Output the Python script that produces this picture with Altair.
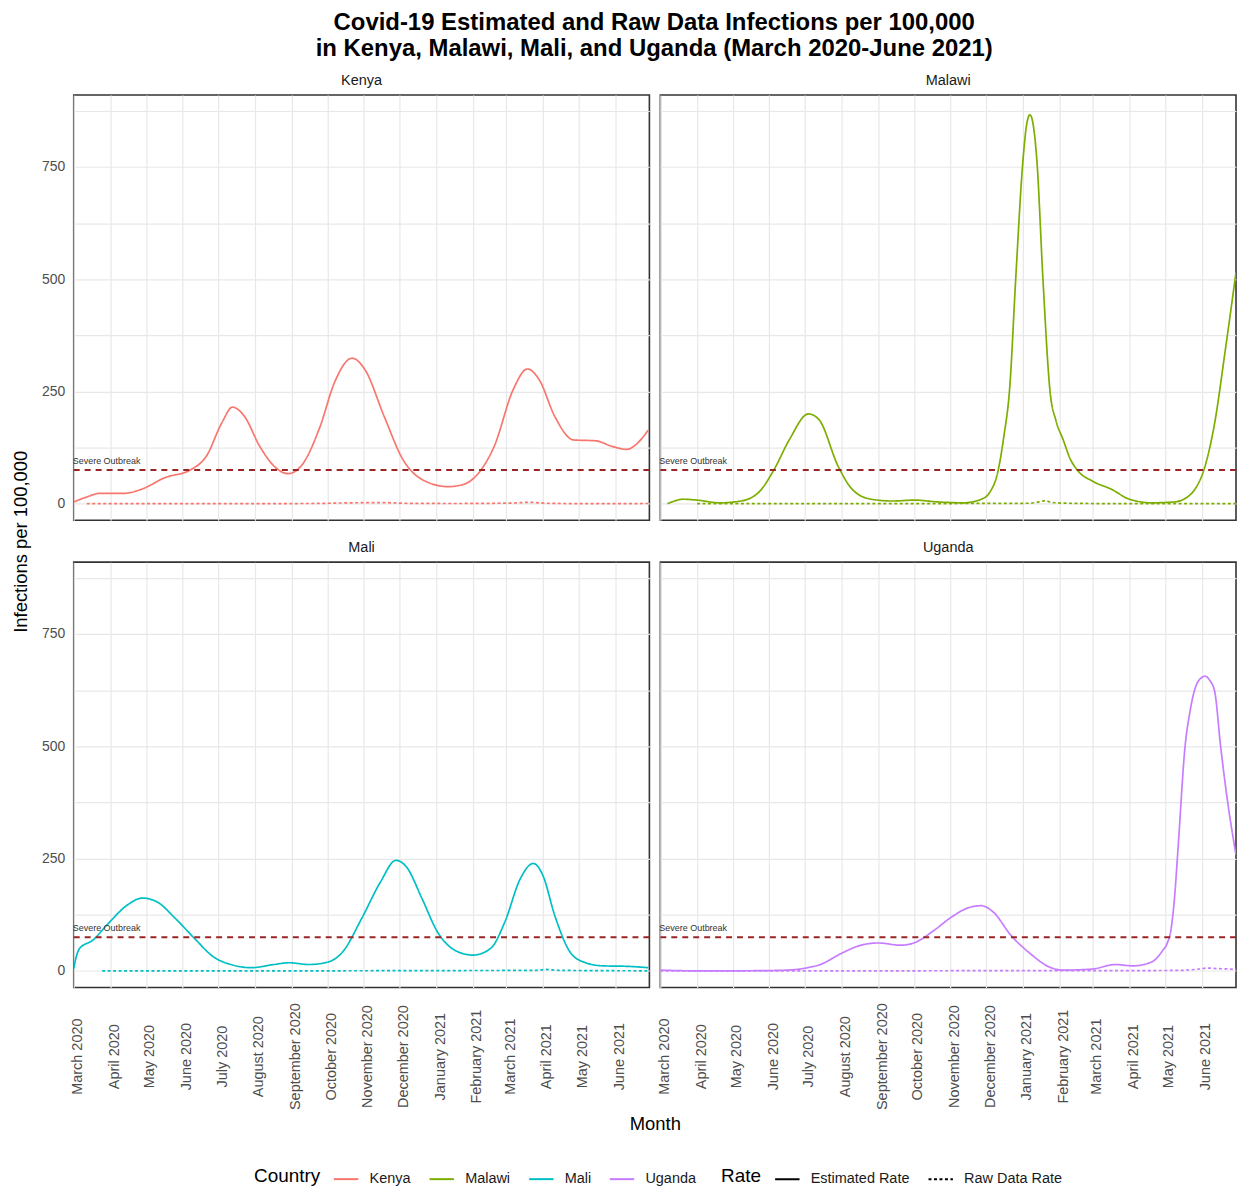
import altair as alt
import pandas as pd

COUNTRIES = ["Kenya", "Malawi", "Mali", "Uganda"]
COLORS = ["#F8766D", "#7CAE00", "#00BFC4", "#C77CFF"]
RATES = ["Estimated Rate", "Raw Data Rate"]
START = "2020-03-01"
THRESHOLD = 75
MONTHS = [(2020, m) for m in range(3, 13)] + [(2021, m) for m in range(1, 7)]

# days since 2020-03-01 and infections per 100,000
kenya_est_days = [0, 10, 22, 42, 57, 77, 99, 112, 125, 134, 144, 157, 169, 181, 192, 208, 220, 235, 246,
                  262, 278, 294, 316, 329, 342, 355, 371, 383, 393, 406, 422, 441, 454, 467, 476, 485]
kenya_est_vals = [4, 14, 23, 23, 32, 58, 76, 106, 180, 215, 195, 128, 84, 67, 84, 172, 269, 324, 298,
                  195, 98, 54, 38, 43, 69, 128, 254, 300, 276, 195, 142, 140, 128, 121, 135, 164]
kenya_raw_days = [11, 100, 200, 235, 260, 280, 320, 370, 385, 400, 440, 485]
kenya_raw_vals = [0, 0, 0.5, 2, 2.5, 1, 0.5, 1.5, 3, 1, 0, 0.5]

malawi_est_days = [6, 12, 19, 31, 50, 68, 84, 96, 109, 125, 134, 150, 162, 178, 196, 215, 234, 256, 271,
                   278, 285, 290, 295, 300, 306, 309, 312, 315, 318, 323, 329, 334, 340, 346, 352, 365,
                   381, 396, 415, 434, 446, 452, 459, 468, 477, 486]
malawi_est_vals = [0, 6, 10, 8, 2, 6, 28, 76, 143, 200, 187, 84, 32, 10, 6, 8, 4, 2, 10,
                   25, 72, 150, 260, 500, 760, 840, 866, 840, 760, 500, 250, 185, 143, 100, 75, 50,
                   32, 10, 2, 4, 17, 35, 76, 180, 343, 515]
malawi_raw_days = [31, 100, 200, 260, 310, 320, 325, 330, 345, 400, 486]
malawi_raw_vals = [0, 0, 0, 0.5, 1, 4, 7, 3, 1, 0, 0]

mali_est_days = [0, 2, 5, 16, 29, 45, 58, 70, 86, 102, 118, 134, 150, 169, 182, 198, 214, 227, 243, 259,
                 272, 281, 294, 307, 323, 337, 352, 364, 377, 388, 396, 406, 419, 431, 447, 467, 485]
mali_est_vals = [5, 30, 50, 68, 105, 146, 162, 154, 116, 72, 31, 13, 7, 14, 18, 14, 19, 42, 116, 198,
                 246, 231, 161, 87, 44, 35, 50, 109, 205, 239, 213, 124, 42, 19, 11, 10, 7]
mali_raw_days = [24, 100, 200, 300, 390, 398, 410, 485]
mali_raw_vals = [0, 0, 0, 0.5, 1, 3, 1, 0]

uganda_est_days = [0, 28, 59, 90, 110, 118, 126, 134, 153, 168, 184, 203, 215, 231, 246, 262, 271, 281,
                   296, 312, 328, 340, 365, 384, 399, 415, 424, 428, 431, 434, 437, 443, 447, 451, 455,
                   460, 464, 468, 473, 479, 486]
uganda_est_vals = [1.5, 0, 0, 0.5, 2, 4, 8, 13, 39, 56, 62, 57, 63, 90, 120, 142, 145, 131,
                   79, 39, 9, 1.5, 4, 14, 11, 20, 45, 62, 90, 160, 270, 500, 575, 625, 648,
                   656, 646, 622, 500, 375, 258]
uganda_raw_days = [0, 100, 200, 300, 400, 440, 455, 462, 470, 480, 486]
uganda_raw_vals = [0, 0, 0, 0.5, 0.5, 1, 4, 6, 5, 4, 3]

series = {
    ("Kenya", "Estimated Rate"): (kenya_est_days, kenya_est_vals),
    ("Kenya", "Raw Data Rate"): (kenya_raw_days, kenya_raw_vals),
    ("Malawi", "Estimated Rate"): (malawi_est_days, malawi_est_vals),
    ("Malawi", "Raw Data Rate"): (malawi_raw_days, malawi_raw_vals),
    ("Mali", "Estimated Rate"): (mali_est_days, mali_est_vals),
    ("Mali", "Raw Data Rate"): (mali_raw_days, mali_raw_vals),
    ("Uganda", "Estimated Rate"): (uganda_est_days, uganda_est_vals),
    ("Uganda", "Raw Data Rate"): (uganda_raw_days, uganda_raw_vals),
}

rows = []
base_date = pd.Timestamp(START)
for (country, rate), (days, vals) in series.items():
    for d, v in zip(days, vals):
        rows.append({"Country": country, "Rate": rate,
                     "date": (base_date + pd.Timedelta(days=d)).strftime("%Y-%m-%d"),
                     "value": v})
df = pd.DataFrame(rows)
thresh_df = pd.DataFrame({"date": [START], "value": [THRESHOLD], "label": ["Severe Outbreak"]})

W = 578
H = 427
COL_GAP = 11
ROW_GAP = 42

month_vals = [alt.DateTime(year=y, month=m, date=1, utc=True) for (y, m) in MONTHS]
xscale = alt.Scale(type="utc",
                   domain=[alt.DateTime(year=2020, month=3, date=1, utc=True),
                           alt.DateTime(year=2021, month=6, date=30, utc=True)])
yscale = alt.Scale(domain=[-37, 910], nice=False, zero=False)


def make_panel(country, col, row):
    xkw = dict(values=month_vals, format="%B %Y", labelAngle=-90, labelAlign="center",
               labelBaseline="middle", ticks=False, domain=False, grid=True, labelPadding=69,
               labelOffset=4, labelFontSize=14.5, labels=(row == 1), labelOverlap=False)
    if row == 1 and col == 0:
        xkw.update(title="Month", titleX=(2 * W + COL_GAP) / 2, titlePadding=5)
    else:
        xkw.update(title=None)
    ykw = dict(values=[0, 125, 250, 375, 500, 625, 750, 875],
               labelExpr="datum.value % 250 == 0 ? datum.label : ''",
               ticks=False, domain=False, grid=True, labels=(col == 0), labelPadding=9)
    if row == 0 and col == 0:
        ykw.update(title="Infections per 100,000", titleY=(2 * H + ROW_GAP) / 2, titlePadding=11)
    else:
        ykw.update(title=None)
    xaxis = alt.Axis(**xkw)
    yaxis = alt.Axis(**ykw)

    sub = df[df.Country == country]
    lines = alt.Chart(sub).mark_line(interpolate="monotone", strokeWidth=1.7, clip=True).encode(
        x=alt.X("date:T", scale=xscale, axis=xaxis),
        y=alt.Y("value:Q", scale=yscale, axis=yaxis),
        color=alt.Color("Country:N", scale=alt.Scale(domain=COUNTRIES, range=COLORS),
                        legend=alt.Legend(title="Country", orient="none", legendX=181, legendY=1075)),
        strokeDash=alt.StrokeDash("Rate:N", scale=alt.Scale(domain=RATES, range=[[1, 0], [3, 2.5]]),
                                  legend=alt.Legend(title="Rate", symbolStrokeColor="black",
                                                    orient="none", legendX=650, legendY=1075)),
    )
    rule = alt.Chart(thresh_df).mark_rule(color="#992526", strokeWidth=2, strokeDash=[6, 5]).encode(
        y=alt.Y("value:Q", scale=yscale, axis=yaxis),
    )
    text = alt.Chart(thresh_df).mark_text(align="left", baseline="bottom", dy=-4, dx=-1,
                                          fontSize=9, color="#333333").encode(
        x=alt.X("date:T", scale=xscale, axis=xaxis),
        y=alt.Y("value:Q", scale=yscale, axis=yaxis),
        text="label:N",
    )
    return alt.layer(lines, rule, text).properties(
        width=W, height=H,
        title=alt.TitleParams(country, fontSize=14.5, fontWeight="normal", color="#1a1a1a",
                              offset=7, anchor="middle"),
    )


panels = [make_panel("Kenya", 0, 0), make_panel("Malawi", 1, 0),
          make_panel("Mali", 0, 1), make_panel("Uganda", 1, 1)]

chart = alt.concat(
    *panels, columns=2, spacing={"row": ROW_GAP, "column": COL_GAP}, bounds="flush",
    title=alt.TitleParams(
        ["Covid-19 Estimated and Raw Data Infections per 100,000",
         "in Kenya, Malawi, Mali, and Uganda (March 2020-June 2021)"],
        fontSize=24, fontWeight="bold", anchor="middle", lineHeight=26, dx=30,
        offset=11, color="black"),
).properties(
    padding={"left": 2, "top": 0, "right": 0, "bottom": 5}
).configure(
    font="Liberation Sans"
).configure_view(
    stroke="#333333", strokeWidth=1.6
).configure_axis(
    labelFontSize=14, labelColor="#4d4d4d", titleFontSize=18.5, titleFontWeight="normal",
    titleColor="black", gridColor="#e8e8e8", gridWidth=1.2
).configure_legend(
    direction="horizontal", titleOrient="left", titleFontSize=19,
    titleFontWeight="normal", titleColor="black", labelFontSize=14.5, labelColor="#1a1a1a",
    symbolType="stroke", symbolStrokeWidth=2, symbolSize=600, columnPadding=14,
    titlePadding=12, labelOffset=10
)

chart.save("out.html", embed_options={"renderer": "svg", "actions": False})
